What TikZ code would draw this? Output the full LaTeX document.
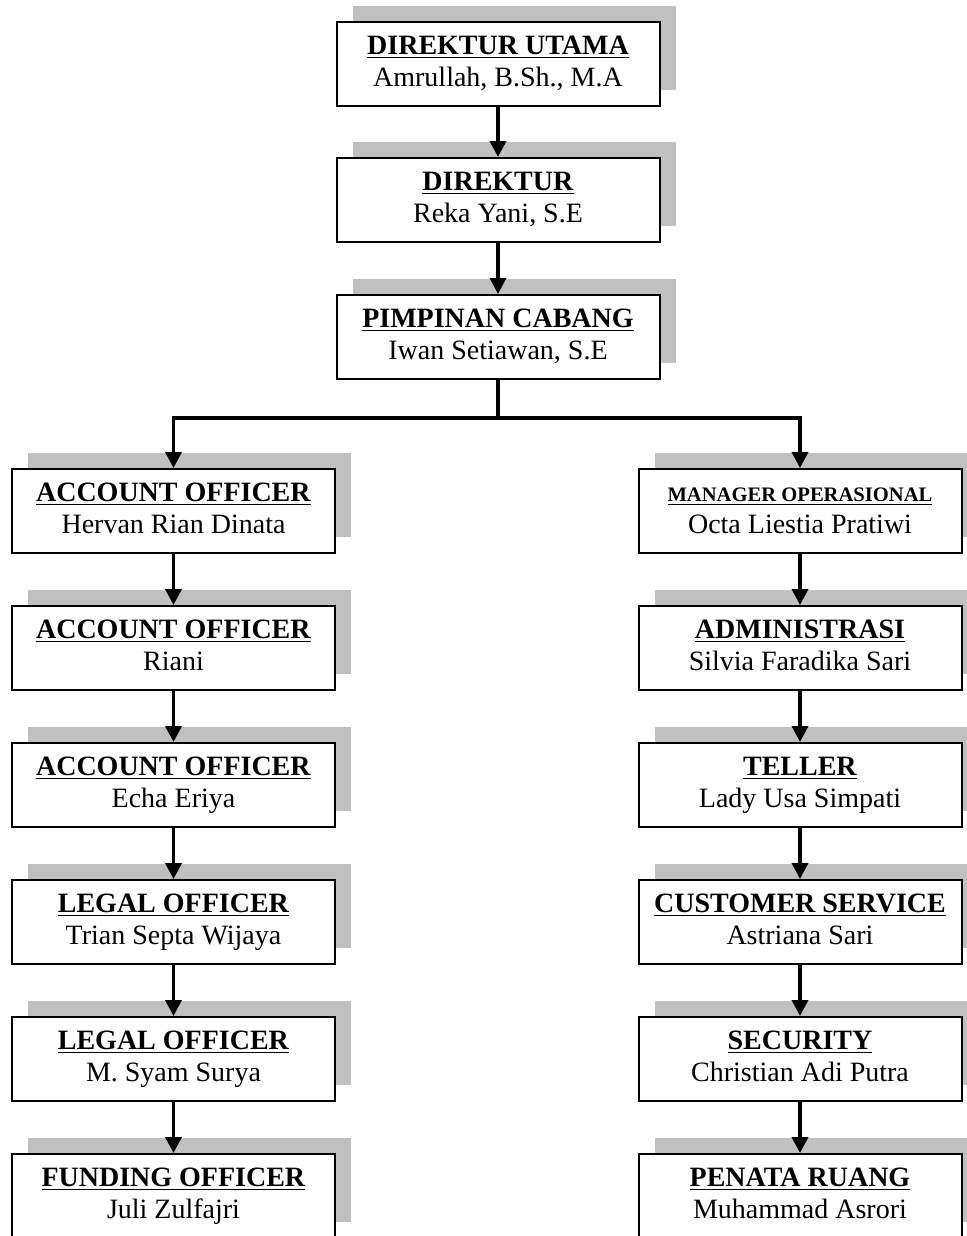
\documentclass[tikz,border=0pt]{standalone}
\usepackage{fontspec}
\setmainfont{Liberation Serif}
\usetikzlibrary{arrows.meta,shadows}
\definecolor{abu}{RGB}{192,192,192}
\tikzset{
  kotak/.style={draw, line width=1pt, fill=white, minimum width=161.5pt, minimum height=42pt,
    inner sep=0pt, align=center, font=\fontsize{14}{16}\selectfont,
    drop shadow={shadow xshift=8pt, shadow yshift=8pt, fill=abu, opacity=1}},
  panah/.style={-{Triangle[width=8pt,length=8pt]}, line width=1.8pt},
}
\newcommand{\jab}[2]{\underline{\textbf{#1}}\strut\\#2\strut}
\begin{document}
\begin{tikzpicture}[x=0.5pt, y=-0.5pt, line join=miter]
	\useasboundingbox (0,0) rectangle (966,1236);
	\def\xt{498} \def\xl{173.5} \def\xr{800}
	% pimpinan
	\node[kotak] (du) at (\xt,64) {\jab{DIREKTUR UTAMA}{Amrullah, B.Sh., M.A}};
	\node[kotak] (dir) at (\xt,200) {\jab{DIREKTUR}{Reka Yani, S.E}};
	\node[kotak] (pc) at (\xt,337) {\jab{PIMPINAN CABANG}{Iwan Setiawan, S.E}};
	% kiri
	\node[kotak] (ao1) at (\xl,511) {\jab{ACCOUNT OFFICER}{Hervan Rian Dinata}};
	\node[kotak] (ao2) at (\xl,648) {\jab{ACCOUNT OFFICER}{Riani}};
	\node[kotak] (ao3) at (\xl,785) {\jab{ACCOUNT OFFICER}{Echa Eriya}};
	\node[kotak] (lo1) at (\xl,922) {\jab{LEGAL OFFICER}{Trian Septa Wijaya}};
	\node[kotak] (lo2) at (\xl,1059) {\jab{LEGAL OFFICER}{M. Syam Surya}};
	\node[kotak] (fo) at (\xl,1196) {\jab{FUNDING OFFICER}{Juli Zulfajri}};
	% kanan
	\node[kotak] (mo) at (\xr,511) {\jab{\fontsize{10.3}{12}\selectfont MANAGER OPERASIONAL}{Octa Liestia Pratiwi}};
	\node[kotak] (adm) at (\xr,648) {\jab{ADMINISTRASI}{Silvia Faradika Sari}};
	\node[kotak] (tl) at (\xr,785) {\jab{TELLER}{Lady Usa Simpati}};
	\node[kotak] (cs) at (\xr,922) {\jab{CUSTOMER SERVICE}{Astriana Sari}};
	\node[kotak] (sec) at (\xr,1059) {\jab{SECURITY}{Christian Adi Putra}};
	\node[kotak] (pr) at (\xr,1196) {\jab{PENATA RUANG}{Muhammad Asrori}};
	% garis
	\foreach \a/\b in {du/dir, dir/pc, ao1/ao2, ao2/ao3, ao3/lo1, lo1/lo2, lo2/fo,
		mo/adm, adm/tl, tl/cs, cs/sec, sec/pr}
		\draw[panah] (\a) -- (\b);
	\draw[line width=1.8pt] (pc.south) -- (\xt,418) coordinate (bus);
	\draw[panah] (bus) -| (ao1.north);
	\draw[panah] (bus) -| (mo.north);
\end{tikzpicture}
\end{document}
